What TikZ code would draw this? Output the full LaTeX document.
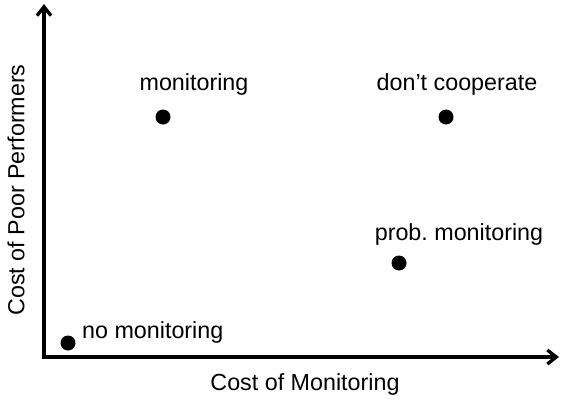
\documentclass[tikz,border=0pt]{standalone}
\usepackage{fontspec}
\setmainfont{Liberation Sans}
\usetikzlibrary{arrows.meta}
\begin{document}
\frenchspacing
\begin{tikzpicture}[x=1pt,y=-1pt,
  axis/.style={line width=3.3pt,-{Straight Barb[length=9pt,width=14pt,line width=3.3pt]}},
  dot/.style={circle,fill=black,inner sep=0pt,minimum size=15pt},
  lbl/.style={font=\fontsize{23.3}{26}\selectfont,inner sep=0pt}]
\useasboundingbox (0,0) rectangle (562,400);
% axes
\coordinate (origin) at (44,357);
\coordinate (ytop) at (44,4);
\coordinate (xend) at (559,357);
\draw[axis] ([yshift=1.6pt]origin) -- (ytop);
\draw[axis] ([xshift=-1.6pt]origin) -- (xend);
% axis titles
\node[lbl] (xlab) at (305,384) {Cost of Monitoring};
\node[lbl,rotate=90] (ylab) at (16,190) {Cost of Poor Performers};
% strategies
\node[dot] (mon) at (163,117) {};
\node[dot] (dc) at (446,117) {};
\node[dot] (pm) at (399,263) {};
\node[dot] (nm) at (68,343) {};
\node[lbl] (monl) at (194,84) {monitoring};
\node[lbl] (dcl) at (457,84) {don't cooperate};
\node[lbl] (pml) at (459,234) {prob. monitoring};
\node[lbl,anchor=west] (nml) at (82,332) {no monitoring};
\end{tikzpicture}
\end{document}
